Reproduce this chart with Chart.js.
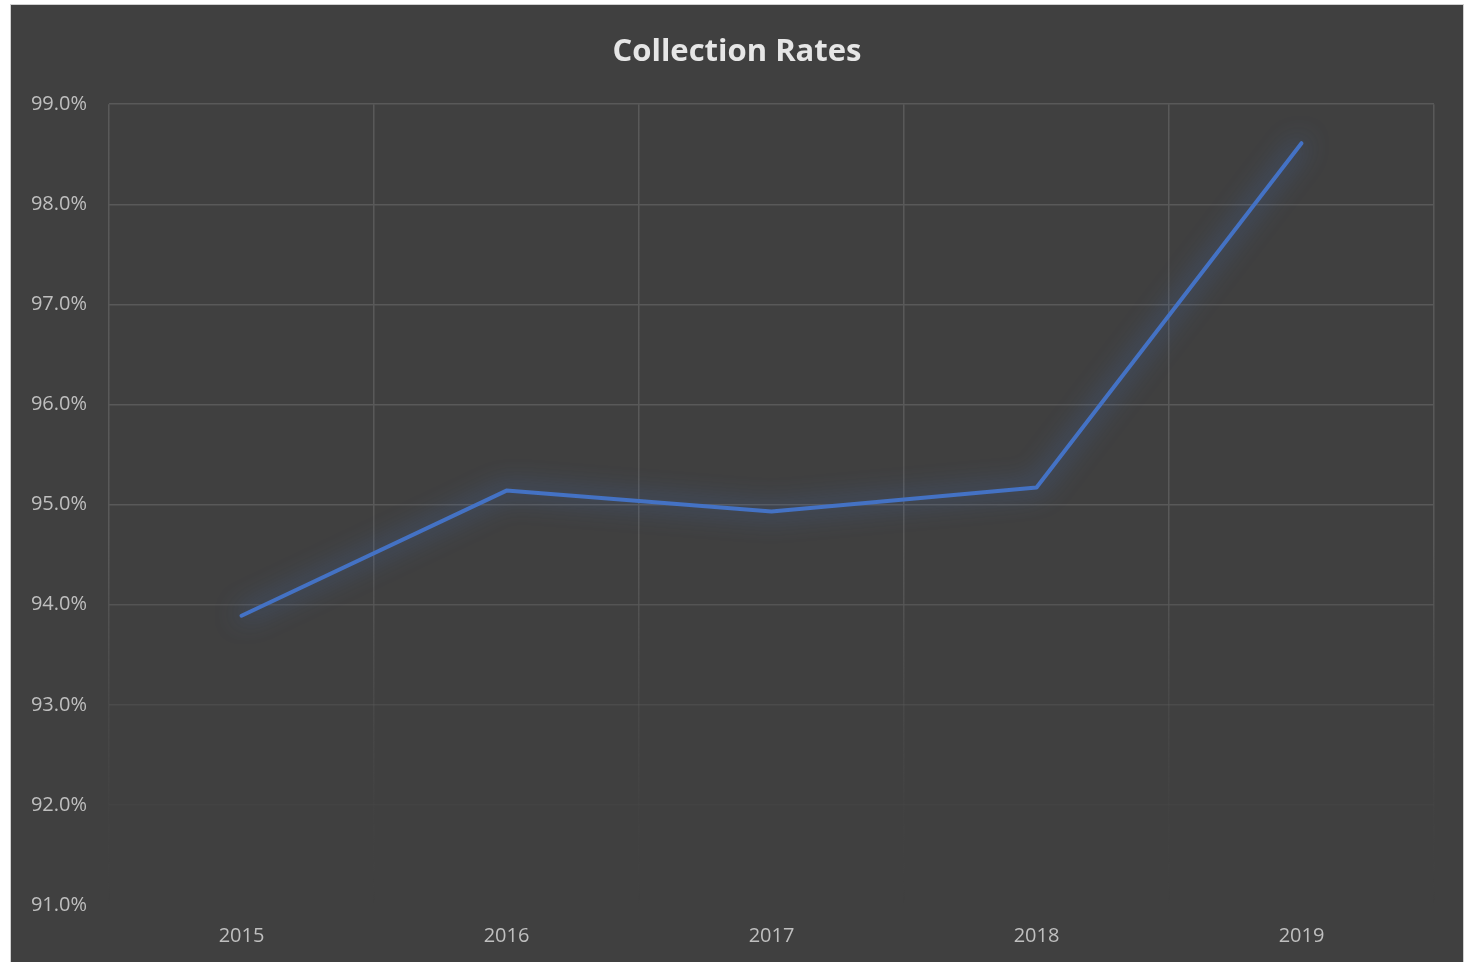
<!DOCTYPE html>
<html>
<head>
<meta charset="utf-8">
<title>Collection Rates</title>
<script src="https://cdn.jsdelivr.net/npm/chart.js@4/dist/chart.umd.min.js"></script>
<style>
  html, body { margin: 0; padding: 0; background: #ffffff; }
  #box {
    position: absolute;
    left: 10px; top: 4px;
    width: 1452px; height: 958px;
    background: #404040;
    border: 1px solid #d0d0d0;
    border-bottom: none;
  }
</style>
</head>
<body>
<div id="box"><canvas id="grafico"></canvas></div>
<script>
// dados do gráfico
const anos = ['2015', '2016', '2017', '2018', '2019'];
const taxas = [93.89, 95.14, 94.93, 95.17, 98.61];
const eixoMin = 91;
const eixoMax = 99;

const fonte = "'Open Sans', 'Noto Sans', sans-serif";

// alpha das linhas horizontais (vão sumindo em baixo)
function alphaLinha(v) {
    if (v >= 95) return 1;
    if (v >= 94) return 0.8;
    if (v >= 93) return 0.45;
    if (v >= 92) return 0.15;
    return 0;
}

// brilho em volta da linha
const brilho = {
    id: 'brilho',
    beforeDatasetsDraw(chart) {
        const ctx = chart.ctx;
        ctx.save();
        ctx.shadowColor = 'rgba(68, 114, 196, 1)';
        ctx.shadowBlur = 26;
    },
    afterDatasetsDraw(chart) {
        chart.ctx.restore();
    }
};

new Chart(document.querySelector('#grafico'), {
    type: 'line',
    data: {
        labels: anos,
        datasets: [{
            label: 'Collection Rate',
            data: taxas,
            borderColor: '#4472C4',
            borderWidth: 4,
            borderCapStyle: 'round',
            borderJoinStyle: 'round',
            pointRadius: 0,
            tension: 0,
            fill: false
        }]
    },
    options: {
        responsive: true,
        maintainAspectRatio: false,
        animation: false,
        layout: { padding: { left: 0, right: 0, top: 29, bottom: 0 } },
        plugins: {
            legend: { display: false },
            tooltip: { enabled: false },
            title: {
                display: true,
                text: 'Collection Rates',
                color: '#e6e6e6',
                font: { family: fonte, size: 31, weight: 'bold', lineHeight: 1.2 },
                padding: { top: 0, bottom: 33 }
            }
        },
        scales: {
            x: {
                offset: true,
                grid: {
                    offset: true,
                    drawTicks: false,
                    lineWidth: 1.5,
                    color: ctx => {
                        const area = ctx.chart.chartArea;
                        if (!area) return '#595959';
                        const g = ctx.chart.ctx.createLinearGradient(0, area.top, 0, area.bottom);
                        g.addColorStop(0, 'rgba(89,89,89,1)');
                        g.addColorStop(0.55, 'rgba(89,89,89,1)');
                        g.addColorStop(0.75, 'rgba(89,89,89,0.35)');
                        g.addColorStop(0.88, 'rgba(89,89,89,0.08)');
                        g.addColorStop(1, 'rgba(89,89,89,0)');
                        return g;
                    }
                },
                border: { display: false },
                ticks: {
                    color: '#bfbfbf',
                    font: { family: fonte, size: 20 },
                    padding: 19
                },
                afterFit: s => { s.height = 58; }
            },
            y: {
                min: eixoMin,
                max: eixoMax,
                grid: {
                    drawTicks: false,
                    lineWidth: 1.5,
                    color: ctx => `rgba(89,89,89,${alphaLinha(ctx.tick ? ctx.tick.value : 99)})`
                },
                border: { display: false },
                ticks: {
                    stepSize: 1,
                    color: '#bfbfbf',
                    font: { family: fonte, size: 20 },
                    padding: 22,
                    callback: v => v.toFixed(1) + '%'
                },
                afterFit: s => { s.width = 98; }
            },
            // eixo vazio à direita só para deixar a margem
            margemDireita: {
                position: 'right',
                min: eixoMin,
                max: eixoMax,
                grid: { display: false },
                border: { display: false },
                ticks: { display: false },
                afterFit: s => { s.width = 29; }
            }
        }
    },
    plugins: [brilho]
});
</script>
</body>
</html>
